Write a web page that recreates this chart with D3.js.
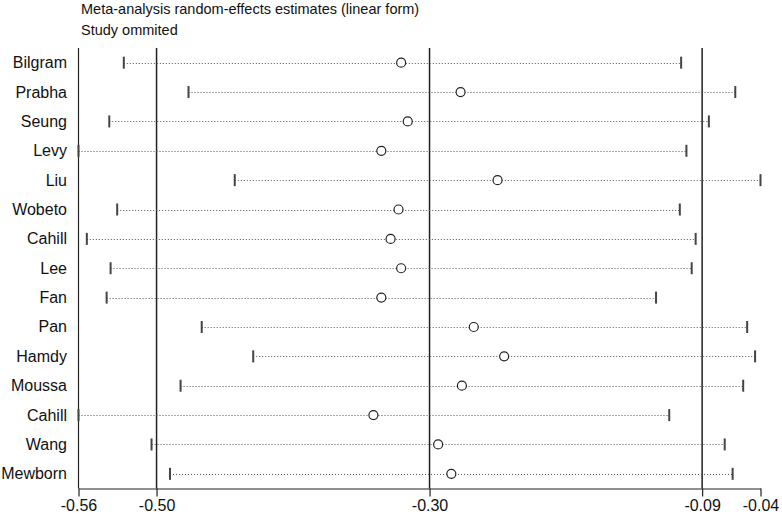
<!DOCTYPE html>
<html>
<head>
<meta charset="utf-8">
<script src="https://cdn.jsdelivr.net/npm/d3@7"></script>
<style>
  body { margin: 0; background: #fff; }
  text { font-family: "Liberation Sans", Arial, sans-serif; }
</style>
</head>
<body>
<div id="chart"></div>
<script>
// study omitted in each row
var studies = ["Bilgram", "Prabha", "Seung", "Levy", "Liu", "Wobeto", "Cahill", "Lee",
               "Fan", "Pan", "Hamdy", "Moussa", "Cahill", "Wang", "Mewborn"];
var lower = [-0.527, -0.478, -0.538, -0.5613, -0.443, -0.532, -0.555, -0.537,
             -0.540, -0.468, -0.429, -0.484, -0.5613, -0.506, -0.492];
var estimate = [-0.317, -0.272, -0.312, -0.332, -0.244, -0.319, -0.325, -0.317,
                -0.332, -0.262, -0.239, -0.271, -0.338, -0.289, -0.279];
var upper = [-0.105, -0.064, -0.084, -0.101, -0.0449, -0.106, -0.094, -0.097,
             -0.124, -0.055, -0.049, -0.058, -0.114, -0.072, -0.066];
// combined estimate: lower CI, estimate, upper CI
var overall = [-0.5022, -0.2955, -0.0891];
var tickValues = [-0.5613, -0.5022, -0.2955, -0.0891, -0.0449];
var tickLabels = ["-0.56", "-0.50", "-0.30", "-0.09", "-0.04"];
var titleLines = ["Meta-analysis random-effects estimates (linear form)", "Study ommited"];

var width = 782, height = 514;
// plot box (note: "top" is reserved on window, so use other names)
var plotL = 78.5, plotR = 760.5, plotT = 48, plotB = 488.5;
var titleSize = "14.5px", labelSize = "16px";

var svg = d3.select("#chart").append("svg")
    .attr("width", width)
    .attr("height", height);

var x = d3.scaleLinear()
    .domain([tickValues[0], tickValues[tickValues.length - 1]])
    .range([plotL, plotR]);

var y = d3.scaleBand()
    .domain(d3.range(studies.length))
    .range([plotT, plotB]);

function cy(i) { return y(i) + y.bandwidth() / 2; }

// title
svg.selectAll("text.title")
    .data(titleLines)
    .enter().append("text")
    .attr("class", "title")
    .attr("x", 81)
    .attr("y", function(d, i) { return 14 + i * 20.5; })
    .style("font-size", titleSize)
    .style("fill", "#111")
    .text(function(d) { return d; });

// left axis line (no ticks)
svg.append("line")
    .attr("x1", plotL).attr("x2", plotL)
    .attr("y1", plotT).attr("y2", plotB)
    .style("stroke", "#222").style("stroke-width", 1.2);

// overall lower / estimate / upper lines
svg.selectAll("line.ref")
    .data(overall)
    .enter().append("line")
    .attr("class", "ref")
    .attr("x1", function(d) { return x(d); })
    .attr("x2", function(d) { return x(d); })
    .attr("y1", plotT).attr("y2", plotB)
    .style("stroke", "#222").style("stroke-width", 1.5);

var rows = svg.selectAll("g.row")
    .data(studies)
    .enter().append("g")
    .attr("class", "row");

rows.append("text")
    .attr("x", 67)
    .attr("y", function(d, i) { return cy(i) + 5.5; })
    .attr("text-anchor", "end")
    .style("font-size", labelSize)
    .style("fill", "#111")
    .text(function(d) { return d; });

rows.append("line")
    .attr("x1", function(d, i) { return x(lower[i]); })
    .attr("x2", function(d, i) { return x(upper[i]); })
    .attr("y1", function(d, i) { return Math.round(cy(i)) + 0.5; })
    .attr("y2", function(d, i) { return Math.round(cy(i)) + 0.5; })
    .style("stroke", "#555")
    .style("stroke-width", 1)
    .style("stroke-dasharray", "1,2");

// caps at the interval ends
[lower, upper].forEach(function(arr) {
  rows.append("line")
      .attr("x1", function(d, i) { return x(arr[i]); })
      .attr("x2", function(d, i) { return x(arr[i]); })
      .attr("y1", function(d, i) { return cy(i) - 6; })
      .attr("y2", function(d, i) { return cy(i) + 6; })
      .style("stroke", "#444")
      .style("stroke-width", 2);
});

rows.append("circle")
    .attr("cx", function(d, i) { return x(estimate[i]); })
    .attr("cy", function(d, i) { return cy(i); })
    .attr("r", 4.5)
    .style("fill", "#fff")
    .style("stroke", "#222")
    .style("stroke-width", 1.2);

// bottom axis
var axis = svg.append("g")
    .attr("transform", "translate(0," + plotB + ")")
    .call(d3.axisBottom(x)
      .tickValues(tickValues)
      .tickFormat(function(d, i) { return tickLabels[i]; })
      .tickSize(8)
      .tickSizeOuter(0)
      .tickPadding(3));

axis.select(".domain").style("stroke", "#222").style("stroke-width", 1.2);
axis.selectAll(".tick line").style("stroke", "#222").style("stroke-width", 1.2);
axis.selectAll(".tick text")
    .style("font-size", labelSize)
    .style("font-family", "'Liberation Sans', Arial, sans-serif")
    .style("fill", "#111");
</script>
</body>
</html>
